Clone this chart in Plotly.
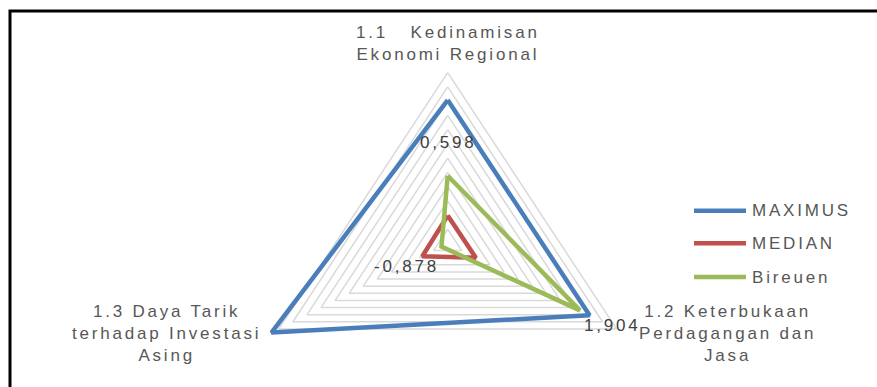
import numpy as np
import plotly.graph_objects as go

# ---------------- data ----------------
category_labels = [
    "1.1&nbsp;&nbsp;&nbsp;Kedinamisan<br>Ekonomi Regional",
    "1.2 Keterbukaan<br>Perdagangan dan<br>Jasa",
    "1.3 Daya Tarik<br>terhadap Investasi<br>Asing",
]
series_names = ["MAXIMUS", "MEDIAN", "Bireuen"]
maximus = [1.52, 1.52, 2.13]
median = [-0.51, -0.50, -0.55]
bireuen = [0.19, 1.35, -0.89]
value_labels = ["0,598", "1,904", "-0,878"]

r_min, r_max, r_step = -1.0, 2.0, 0.25

colors = ["#4A7EBB", "#C0504D", "#9BBB59"]
series_values = [maximus, median, bireuen]

# ---------------- geometry helpers ----------------
n = len(category_labels)
angles = np.deg2rad(90 - 120 * np.arange(n))


def to_xy(vals):
    frac = (np.asarray(vals, float) - r_min) / (r_max - r_min)
    x = frac * np.cos(angles)
    y = frac * np.sin(angles)
    return np.append(x, x[0]), np.append(y, y[0])


W, H = 877, 387
cx, cy = 447.7, 243.5   # pixel centre of radar
Rx, Ry = 195.0, 170.8   # pixel size of unit radius

fig = go.Figure()

# grid rings
ring_vals = np.arange(r_min + r_step, r_max + r_step / 2, r_step)
for rv in ring_vals:
    gx, gy = to_xy([rv] * n)
    fig.add_trace(go.Scatter(x=gx, y=gy, mode="lines",
                             line=dict(color="#D9D9D9", width=1.5),
                             hoverinfo="skip", showlegend=False))

# series
for name, vals, col in zip(series_names, series_values, colors):
    sx, sy = to_xy(vals)
    fig.add_trace(go.Scatter(x=sx, y=sy, mode="lines", name=name,
                             line=dict(color=col, width=4.5),
                             showlegend=False))

LS = "letter-spacing:2.8px"
FONT = "Liberation Sans, Arial"


def sp(t):
    return "<br>".join(f'<span style="{LS}">{p}</span>' for p in t.split("<br>"))


annotations = []
# category labels
cat_pos = [(447.7, 43), (727, 333.3), (166, 333.3)]
for lab, (px, py) in zip(category_labels, cat_pos):
    annotations.append(dict(x=px / W, y=1 - py / H, xref="paper", yref="paper",
                            text=sp(lab), showarrow=False,
                            xanchor="center", yanchor="middle",
                            font=dict(family=FONT, size=17, color="#575757")))

# value labels
val_pos = [(448, 142), (612, 325), (406, 266)]
for lab, (px, py) in zip(value_labels, val_pos):
    annotations.append(dict(x=px / W, y=1 - py / H, xref="paper", yref="paper",
                            text=sp(lab), showarrow=False,
                            xanchor="center", yanchor="middle",
                            font=dict(family=FONT, size=17, color="#404040")))

# manual legend
shapes = []
leg_y = [210.7, 243.3, 277]
for name, col, ly in zip(series_names, colors, leg_y):
    shapes.append(dict(type="line", xref="paper", yref="paper",
                       x0=694 / W, x1=746 / W, y0=1 - ly / H, y1=1 - ly / H,
                       line=dict(color=col, width=4.5)))
    annotations.append(dict(x=750 / W, y=1 - ly / H, xref="paper", yref="paper",
                            text=sp(name), showarrow=False,
                            xanchor="left", yanchor="middle",
                            font=dict(family=FONT, size=17, color="#575757")))

# frame
shapes.append(dict(type="rect", xref="paper", yref="paper",
                   x0=10 / W, x1=1.02, y0=-0.02, y1=1 - 11 / H,
                   line=dict(color="black", width=3)))

fig.update_layout(
    width=W, height=H, autosize=False,
    margin=dict(l=0, r=0, t=0, b=0),
    paper_bgcolor="white", plot_bgcolor="white",
    xaxis=dict(range=[-cx / Rx, (W - cx) / Rx], visible=False, fixedrange=True),
    yaxis=dict(range=[-(H - cy) / Ry, cy / Ry], visible=False, fixedrange=True),
    annotations=annotations, shapes=shapes,
    showlegend=False,
)

fig.write_html("out.html", config={"displayModeBar": False},
               post_script="document.body.style.margin='0';")
